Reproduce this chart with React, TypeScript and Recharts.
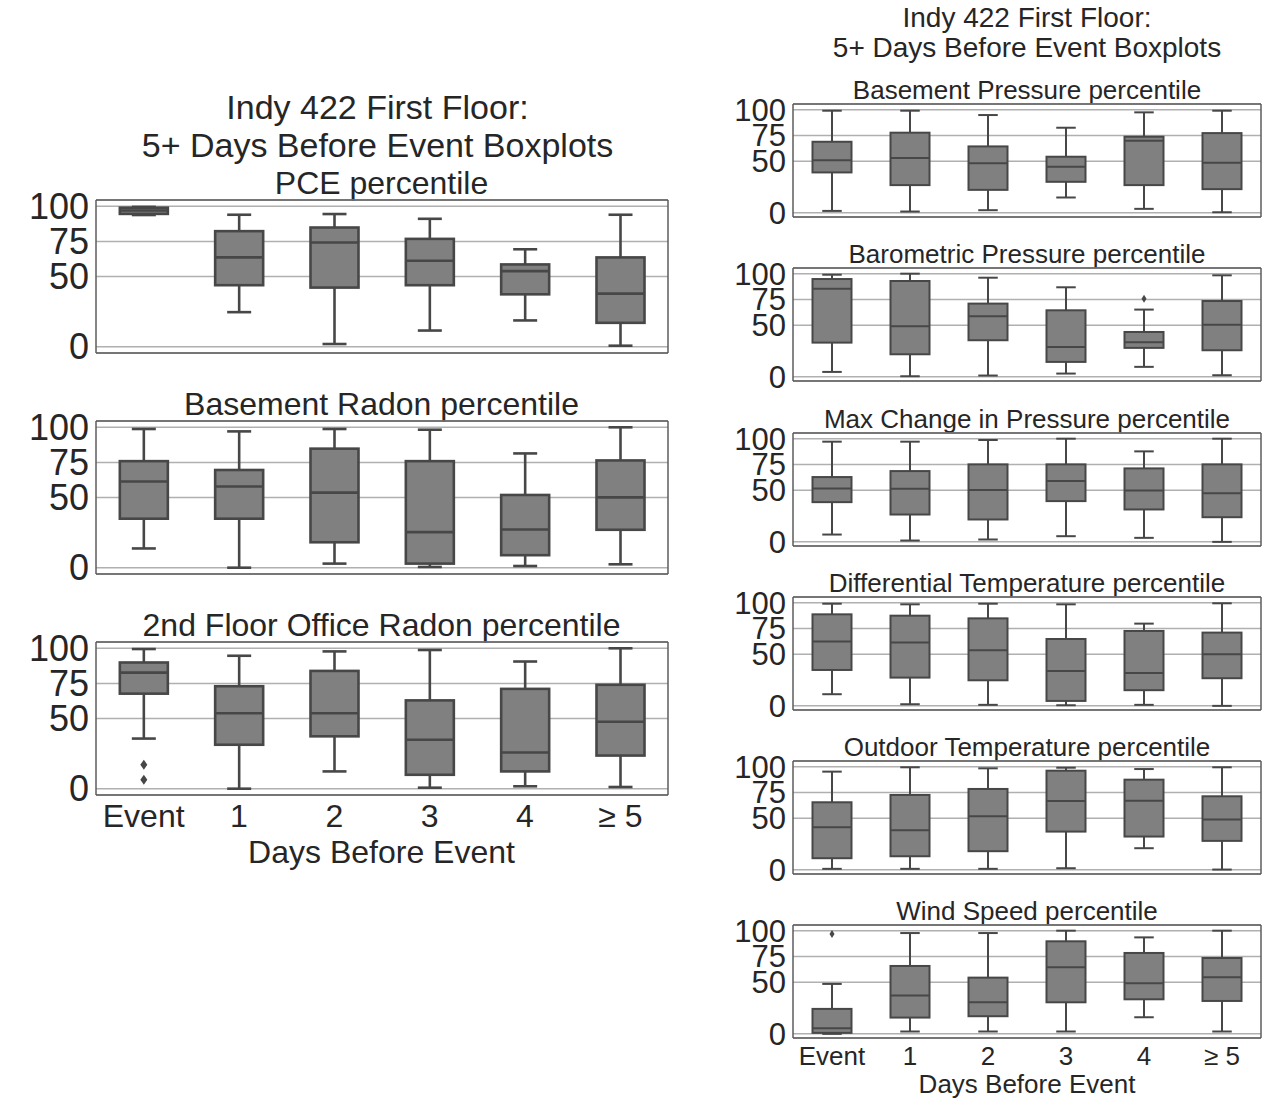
import React from 'react';
import { ComposedChart, Bar, XAxis, YAxis, CartesianGrid } from 'recharts';

const CATS = ['Event', '1', '2', '3', '4', '≥ 5'];
const Y_TICKS = [0, 50, 75, 100];

// one row per category: [lower whisker, q1, median, q3, upper whisker]
const pce = [
  [93.8, 94.6, 97, 99, 99.6],
  [24.6, 43.8, 63.6, 82.3, 94],
  [1.9, 42.1, 74.2, 84.9, 94.5],
  [11.5, 43.8, 61.2, 76.8, 91.1],
  [18.7, 37.3, 53.8, 58.6, 69.4],
  [0.7, 17, 37.8, 63.6, 94],
];
const basementRadon = [
  [13.7, 34.9, 61.4, 75.9, 98.8],
  [0, 34.9, 57.8, 69.6, 97.1],
  [2.9, 18.1, 53.5, 84.8, 98.8],
  [0.5, 2.9, 25.3, 75.9, 98.3],
  [1.2, 8.9, 27.2, 51.8, 81.4],
  [2.4, 27, 50.1, 76.4, 100],
];
const officeRadon = [
  [35.7, 67.7, 82.7, 89.9, 99.5],
  [0, 31.3, 53.7, 73, 94.7],
  [12.3, 37.3, 53.7, 83.9, 97.8],
  [0.7, 9.9, 34.9, 62.9, 98.8],
  [1.7, 12.3, 25.8, 71.1, 90.6],
  [1.2, 23.6, 47.7, 74, 100],
];
const basementPressure = [
  [1.9, 39.2, 51.1, 68.9, 99],
  [1.3, 26.9, 53.1, 77.7, 99],
  [2.6, 22.3, 48.2, 64.4, 94.8],
  [14.9, 30.1, 44.7, 54.4, 82.5],
  [3.9, 26.9, 69.9, 73.8, 97.4],
  [0.6, 23, 48.5, 77.3, 99],
];
const barometric = [
  [4.8, 33.2, 85.5, 94.8, 99],
  [0.6, 21.9, 49, 92.9, 100],
  [1.3, 35.5, 58.7, 71, 96.1],
  [3.2, 14.5, 29, 64.5, 86.8],
  [9.7, 28.1, 33.5, 43.5, 65.2],
  [1.6, 25.8, 50.6, 73.5, 98.4],
];
const maxChange = [
  [7.1, 38.5, 51.8, 62.8, 97.1],
  [1.3, 26.5, 51.5, 68.6, 97.1],
  [2.3, 21.7, 50.2, 75.1, 98.7],
  [5.5, 39.5, 58.9, 75.1, 100],
  [3.9, 31.4, 49.8, 71.2, 87.7],
  [0, 23.9, 47.2, 75.1, 100],
];
const diffTemp = [
  [11.3, 34.8, 62.3, 88.7, 99],
  [1.6, 27.4, 61.3, 87.4, 98.4],
  [1, 24.8, 53.9, 84.8, 99],
  [0.6, 4.8, 33.9, 64.8, 98.4],
  [1, 15.2, 31.9, 72.6, 79.7],
  [0, 26.8, 50, 71, 99.4],
];
const outdoorTemp = [
  [1, 11.3, 41.3, 65.5, 95.2],
  [1, 13.2, 38.4, 72.6, 99.4],
  [1, 18.1, 51.9, 78.4, 98.4],
  [1.6, 37.1, 66.8, 96.1, 99],
  [21, 32.3, 67.1, 87.4, 97.7],
  [0.3, 28.1, 48.7, 71.3, 99.4],
];
const windSpeed = [
  [0, 1, 5.5, 24.2, 48.4],
  [2.3, 15.8, 37.1, 65.8, 97.7],
  [2.3, 17.1, 30.6, 54.5, 97.7],
  [2.3, 30.6, 64.5, 89.7, 100],
  [16.1, 33.5, 49, 78.4, 93.5],
  [2.3, 31.9, 54.8, 73.5, 100],
];

type Outlier = [string, number];
const officeOutliers: Outlier[] = [['Event', 17.1], ['Event', 6.3]];
const barometricOutliers: Outlier[] = [['4', 75.8]];
const windOutliers: Outlier[] = [['Event', 96.8]];

const FONT = '"Liberation Sans", Arial, sans-serif';
const TXT = '#262626';
const EDGE = '#474747';
const FILL = '#808080';
const GRID = '#b0b0b0';
const FRAME = '#5c5c5c';

function buildRows(stats: number[][], outliers: Outlier[]) {
  return CATS.map((cat, i) => ({
    cat,
    range: [stats[i][0], stats[i][4]],
    stats: stats[i],
    out: outliers.filter((o) => o[0] === cat).map((o) => o[1]),
  }));
}

function boxShape(lw: number, dw: number, dh: number) {
  return (props: any) => {
    const { x, y, width, height, payload } = props;
    const [lo, q1, med, q3, hi] = payload.stats;
    const top = Math.min(y, y + height);
    const h = Math.abs(height);
    // position inside the whisker bar rectangle laid out by the y scale
    const py = (v: number) => top + (h * (hi - v)) / (hi - lo);
    const cx = x + width / 2;
    const cap = width / 4;
    return (
      <g>
        <line x1={cx} x2={cx} y1={py(hi)} y2={py(q3)} stroke={EDGE} strokeWidth={lw} />
        <line x1={cx} x2={cx} y1={py(q1)} y2={py(lo)} stroke={EDGE} strokeWidth={lw} />
        <line x1={cx - cap} x2={cx + cap} y1={py(hi)} y2={py(hi)} stroke={EDGE} strokeWidth={lw} />
        <line x1={cx - cap} x2={cx + cap} y1={py(lo)} y2={py(lo)} stroke={EDGE} strokeWidth={lw} />
        <rect x={x} y={py(q3)} width={width} height={py(q1) - py(q3)} fill={FILL} stroke={EDGE} strokeWidth={lw} />
        <line x1={x} x2={x + width} y1={py(med)} y2={py(med)} stroke={EDGE} strokeWidth={lw} />
        {payload.out.map((v: number, k: number) => {
          const oy = py(v);
          return (
            <path
              key={k}
              d={`M${cx},${oy - dh} L${cx + dw},${oy} L${cx},${oy + dh} L${cx - dw},${oy} Z`}
              fill={EDGE}
            />
          );
        })}
      </g>
    );
  };
}

interface PanelProps {
  stats: number[][];
  outliers?: Outlier[];
  frameLeft: number;
  frameTop: number;
  plotW: number;
  plotH: number;
  yFont: number;
  xFont: number;
  showX: boolean;
  lw: number;
  dw: number;
  dh: number;
  domain: [number, number];
}

function Panel({ stats, outliers = [], frameLeft, frameTop, plotW, plotH, yFont, xFont, showX, lw, dw, dh, domain }: PanelProps) {
  const yW = 90;
  const mTop = 20;
  const bottomH = showX ? 50 : 1;
  const mBottom = showX ? 0 : 20;
  const width = 5 + yW + plotW + 1 + 12;
  const height = mTop + 1 + plotH + bottomH + mBottom;
  const rows = buildRows(stats, outliers);
  return (
    <div style={{ position: 'absolute', left: frameLeft - yW - 5, top: frameTop - mTop - 1 }}>
      <ComposedChart
        width={width}
        height={height}
        data={rows}
        margin={{ top: mTop, right: 12, bottom: mBottom, left: 5 }}
        barCategoryGap="25%"
      >
        <CartesianGrid vertical={false} stroke={GRID} strokeWidth={1.5} />
        <XAxis
          dataKey="cat"
          interval={0}
          tickLine={false}
          tickSize={0}
          tickMargin={9}
          height={bottomH}
          axisLine={{ stroke: FRAME, strokeWidth: 1.5 }}
          tick={showX ? { fontSize: xFont, fill: TXT, fontFamily: FONT } : false}
        />
        <XAxis
          xAxisId="t"
          dataKey="cat"
          orientation="top"
          height={1}
          tick={false}
          tickLine={false}
          axisLine={{ stroke: FRAME, strokeWidth: 1.5 }}
        />
        <YAxis
          type="number"
          domain={domain}
          ticks={Y_TICKS}
          interval={0}
          allowDataOverflow
          width={yW}
          tickLine={false}
          tickSize={0}
          tickMargin={7}
          axisLine={{ stroke: FRAME, strokeWidth: 1.5 }}
          tick={{ fontSize: yFont, fill: TXT, fontFamily: FONT }}
        />
        <YAxis
          yAxisId="r"
          type="number"
          orientation="right"
          domain={domain}
          width={1}
          tick={false}
          tickLine={false}
          axisLine={{ stroke: FRAME, strokeWidth: 1.5 }}
        />
        <Bar dataKey="range" isAnimationActive={false} shape={boxShape(lw, dw, dh)} />
      </ComposedChart>
    </div>
  );
}

function Txt({ x, y, size, children }: { x: number; y: number; size: number; children: React.ReactNode }) {
  return (
    <div
      style={{
        position: 'absolute',
        left: x - 400,
        top: y - size / 2,
        width: 800,
        textAlign: 'center',
        fontSize: size,
        lineHeight: `${size}px`,
        fontFamily: FONT,
        color: TXT,
        whiteSpace: 'nowrap',
      }}
    >
      {children}
    </div>
  );
}

const LEFT_TITLES = ['PCE percentile', 'Basement Radon percentile', '2nd Floor Office Radon percentile'];
const RIGHT_TITLES = [
  'Basement Pressure percentile',
  'Barometric Pressure percentile',
  'Max Change in Pressure percentile',
  'Differential Temperature percentile',
  'Outdoor Temperature percentile',
  'Wind Speed percentile',
];

export default function App() {
  const leftStats = [pce, basementRadon, officeRadon];
  const leftOut: Outlier[][] = [[], [], officeOutliers];
  const leftTops = [200, 421, 642];
  const rightStats = [basementPressure, barometric, maxChange, diffTemp, outdoorTemp, windSpeed];
  const rightOut: Outlier[][] = [[], barometricOutliers, [], [], [], windOutliers];
  const rightTops = [104, 268, 433, 597, 761, 925];
  const lx = 381.5;
  const rx = 1027;
  return (
    <div style={{ position: 'absolute', left: 0, top: 0, width: 1274, height: 1098, background: '#fff' }}>
      <Txt x={lx - 4} y={107} size={34}>Indy 422 First Floor:</Txt>
      <Txt x={lx - 4} y={145} size={34}>5+ Days Before Event Boxplots</Txt>
      {leftStats.map((s, i) => (
        <React.Fragment key={i}>
          <Txt x={lx} y={leftTops[i] - 17} size={32}>{LEFT_TITLES[i]}</Txt>
          <Panel
            stats={s}
            outliers={leftOut[i]}
            frameLeft={96}
            frameTop={leftTops[i]}
            plotW={572}
            plotH={153}
            yFont={36}
            xFont={32}
            showX={i === 2}
            lw={2.6}
            dw={3.5}
            dh={5}
            domain={[-4.5, 104.5]}
          />
        </React.Fragment>
      ))}
      <Txt x={lx} y={852} size={32}>Days Before Event</Txt>

      <Txt x={rx} y={18} size={28}>Indy 422 First Floor:</Txt>
      <Txt x={rx} y={48} size={28}>5+ Days Before Event Boxplots</Txt>
      {rightStats.map((s, i) => (
        <React.Fragment key={i}>
          <Txt x={rx} y={rightTops[i] - 14} size={26}>{RIGHT_TITLES[i]}</Txt>
          <Panel
            stats={s}
            outliers={rightOut[i]}
            frameLeft={793}
            frameTop={rightTops[i]}
            plotW={468}
            plotH={113}
            yFont={31}
            xFont={26}
            showX={i === 5}
            lw={2}
            dw={2.5}
            dh={4}
            domain={[-4, 105.5]}
          />
        </React.Fragment>
      ))}
      <Txt x={rx} y={1084} size={26}>Days Before Event</Txt>
    </div>
  );
}
